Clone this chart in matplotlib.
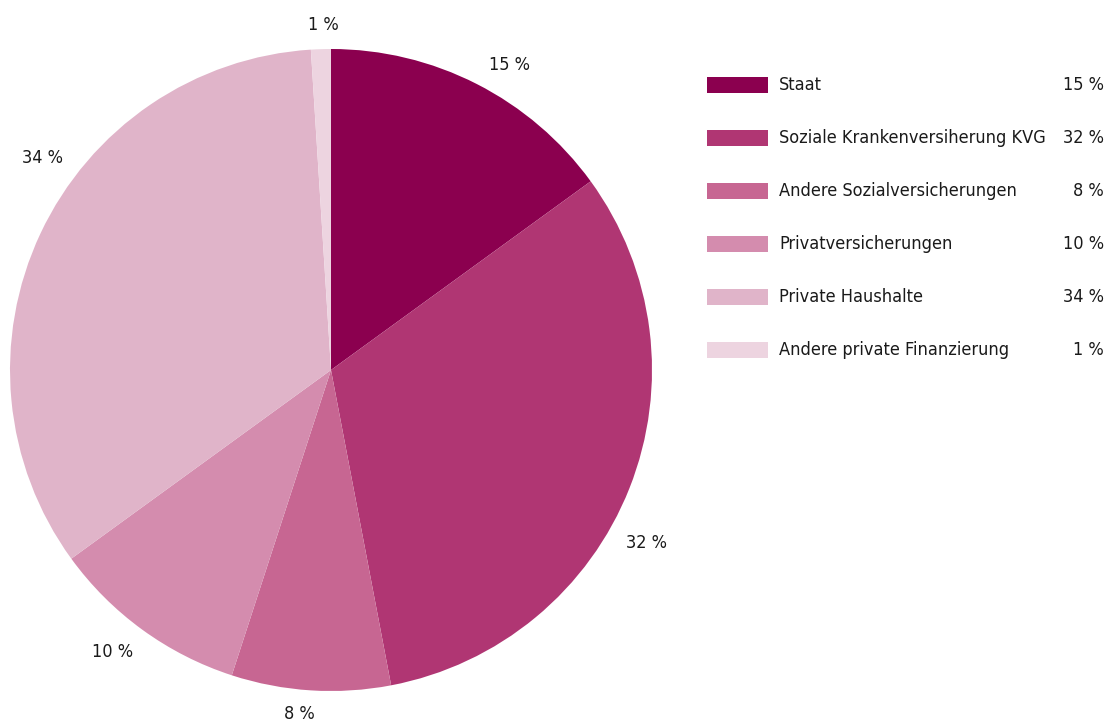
import numpy as np
import matplotlib
matplotlib.use('Agg')
import matplotlib.pyplot as plt
from matplotlib.patches import Rectangle

plt.rcParams['font.family'] = ['DejaVu Sans']
plt.rcParams['font.stretch'] = 'condensed'

# Finanzierung des Gesundheitswesens nach Quelle
categories = ['Staat', 'Soziale Krankenversiherung KVG', 'Andere Sozialversicherungen',
              'Privatversicherungen', 'Private Haushalte', 'Andere private Finanzierung']
shares = [15, 32, 8, 10, 34, 1]
colors = ['#8B004F', '#B03673', '#C76692', '#D48CAE', '#E0B4C9', '#EDD4E0']

# where each percentage label sits around the pie (degrees, radius)
label_angles = [59.6, -28.8, -95.3, -127.8, 143.7, 91.3]
label_radii = [1.10, 1.12, 1.075, 1.11, 1.115, 1.075]

fig = plt.figure(figsize=(11.07, 7.24), dpi=100)

# Pie chart
ax = fig.add_axes([10 / 1107, 33 / 724, 642 / 1107, 642 / 724])
wedges, texts = ax.pie(shares, colors=colors, startangle=90, counterclock=False, radius=1,
                       labels=[f'{v} %' for v in shares], labeldistance=1.1,
                       textprops=dict(fontsize=13, color='#1a1a1a'),
                       wedgeprops=dict(linewidth=0))
for t, a, r in zip(texts, label_angles, label_radii):
    t.set_position((r * np.cos(np.radians(a)), r * np.sin(np.radians(a))))
    t.set_horizontalalignment('center')
    t.set_verticalalignment('center')
ax.set_xlim(-1, 1)
ax.set_ylim(-1, 1)
ax.axis('off')

# Legend with right-aligned percentages
lax = fig.add_axes([0, 0, 1, 1])
lax.set_xlim(0, 1107)
lax.set_ylim(724, 0)
lax.axis('off')
for i, (name, val, c) in enumerate(zip(categories, shares, colors)):
    y = 85 + i * 53
    lax.add_patch(Rectangle((707, y - 8), 61, 16, facecolor=c, edgecolor='none'))
    lax.text(779, y, name, fontsize=13, color='#1a1a1a', va='center', ha='left')
    lax.text(1104, y, f'{val} %', fontsize=13, color='#1a1a1a', va='center', ha='right')

fig.savefig('out.png', dpi=100)
